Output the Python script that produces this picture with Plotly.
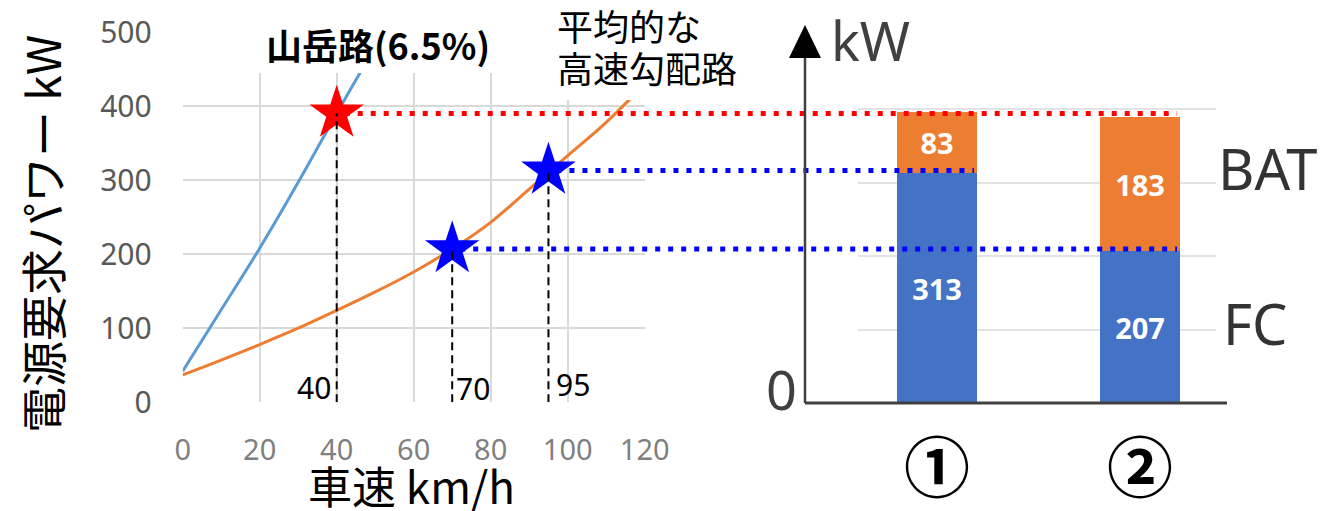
import plotly.graph_objects as go

# ---- data ---------------------------------------------------------------
# required power vs. vehicle speed
mountain_speed = [0, 10, 20, 30, 40, 50]
mountain_kw = [42, 125, 208, 297, 390, 480]          # 山岳路 (6.5%)
highway_speed = [0, 10, 20, 30, 40, 50, 60, 70, 80, 90, 100, 110, 120]
highway_kw = [37, 57, 78, 100, 124, 149, 176, 207, 243, 288, 333, 378, 430]  # 平均的な高速勾配路

# operating points
red_speed, red_kw = [40], [390]
blue_speed, blue_kw = [70, 95], [207, 313]

# power split per case
cases = ["①", "②"]
fc_kw = [313, 207]
bat_kw = [83, 183]

x_ticks = [0, 20, 40, 60, 80, 100, 120]
y_ticks = [0, 100, 200, 300, 400, 500]

# ---- geometry (pixels of the 1329x511 canvas) ---------------------------
W, H = 1329, 511


def px(x):
    return x / W


def py(y):
    return 1 - y / H


L_X0, L_X1, L_Y0, L_Y1 = 182.7, 644.7, 402.3, 32.0
R_X0, R_X1, R_Y0, R_Y1 = 858.0, 1216.0, 403.0, 36.0
X_RANGE = [0, 120]
R_RANGE = [-0.389, 1.374]
BAR_W = 0.394


def xl(v):
    return px(L_X0 + (L_X1 - L_X0) * (v - X_RANGE[0]) / (X_RANGE[1] - X_RANGE[0]))


def xr(i):
    return px(R_X0 + (R_X1 - R_X0) * (i - R_RANGE[0]) / (R_RANGE[1] - R_RANGE[0]))


BLUE_LINE = "#5B9BD5"
ORANGE = "#ED7D31"
FC_BLUE = "#4472C4"
GRID = "#d9d9d9"
JP = "Noto Sans CJK JP"
LAT = "Noto Sans"

fig = go.Figure()

fig.add_trace(go.Scatter(x=mountain_speed, y=mountain_kw, mode="lines",
                         line=dict(color=BLUE_LINE, width=3), line_shape="spline",
                         xaxis="x", yaxis="y", showlegend=False))
fig.add_trace(go.Scatter(x=highway_speed, y=highway_kw, mode="lines",
                         line=dict(color=ORANGE, width=3), line_shape="spline",
                         xaxis="x", yaxis="y", showlegend=False))
fig.add_trace(go.Scatter(x=red_speed, y=red_kw, mode="markers",
                         marker=dict(symbol="star", size=41, color="#FF0000"),
                         xaxis="x", yaxis="y", showlegend=False))
fig.add_trace(go.Scatter(x=blue_speed, y=blue_kw, mode="markers",
                         marker=dict(symbol="star", size=41, color="#0000FF"),
                         xaxis="x", yaxis="y", showlegend=False))

bar_font = dict(family=LAT, size=29, color="white", weight="bold")
fig.add_trace(go.Bar(x=cases, y=fc_kw, width=BAR_W, marker=dict(color=FC_BLUE, line_width=0),
                     text=fc_kw, textposition="inside", insidetextanchor="middle",
                     textangle=0, constraintext="none", insidetextfont=bar_font,
                     xaxis="x2", yaxis="y2", showlegend=False))
fig.add_trace(go.Bar(x=cases, y=bat_kw, width=BAR_W, marker=dict(color=ORANGE, line_width=0),
                     text=bat_kw, textposition="inside", insidetextanchor="middle",
                     textangle=0, constraintext="none", insidetextfont=bar_font,
                     xaxis="x2", yaxis="y2", showlegend=False))

shapes = []
# white label boxes over the top of the speed chart
for x0, x1, y1 in [(243, 507, 73), (532, 760, 100)]:
    shapes.append(dict(type="rect", xref="paper", yref="paper", layer="above",
                       x0=px(x0), x1=px(x1), y0=py(y1), y1=1.01,
                       fillcolor="white", line_width=0))
# gaps in the bar chart gridlines
for x0, x1, y0, y1 in [(1014, 1065, 410, 0), (829, 902, 62, 0)]:
    shapes.append(dict(type="rect", xref="paper", yref="paper", layer="between",
                       x0=px(x0), x1=px(x1), y0=py(y0), y1=py(y1),
                       fillcolor="white", line_width=0))

# vertical drop lines from operating points
for s, k in zip(red_speed + blue_speed, red_kw + blue_kw):
    shapes.append(dict(type="line", xref="x", yref="y", x0=s, x1=s, y0=0, y1=k,
                       layer="above", line=dict(color="black", width=2, dash="8px,5px")))

# horizontal dotted links from operating points to the bars
links = [
    (red_speed[0], red_kw[0], 1, "#FF0000"),
    (blue_speed[1], blue_kw[1], 0, "#0000FF"),
    (blue_speed[0], blue_kw[0], 1, "#0000FF"),
]
for s, k, bar_i, col in links:
    shapes.append(dict(type="line", xref="paper", yref="y", layer="above",
                       x0=xl(s) + px(8), x1=xr(bar_i + BAR_W / 2) - px(3), y0=k, y1=k,
                       line=dict(color=col, width=5, dash="5px,8px")))

# power axis with arrow head and base line of the bar chart
AX = 805
shapes.append(dict(type="line", xref="paper", yref="paper", layer="above",
                   x0=px(AX), x1=px(AX), y0=py(R_Y0), y1=py(56),
                   line=dict(color="#404040", width=2.5)))
shapes.append(dict(type="path", xref="paper", yref="paper", layer="above",
                   path=f"M {px(AX-16)},{py(58)} L {px(AX+16)},{py(58)} L {px(AX)},{py(25)} Z",
                   fillcolor="black", line_width=0))
shapes.append(dict(type="line", xref="paper", yref="paper", layer="above",
                   x0=px(AX), x1=px(1227), y0=py(R_Y0), y1=py(R_Y0),
                   line=dict(color="#404040", width=3)))

annotations = [
    dict(text="山岳路(6.5%)", x=px(264), y=py(44), xanchor="left", yanchor="middle",
         font=dict(family=JP, size=36, color="black", weight="bold")),
    dict(text="平均的な", x=px(555), y=py(25), xanchor="left", yanchor="middle",
         font=dict(family=JP, size=36, color="black")),
    dict(text="高速勾配路", x=px(555), y=py(67), xanchor="left", yanchor="middle",
         font=dict(family=JP, size=36, color="black")),
    dict(text="電源要求パワー kW", x=px(41), y=py(234), textangle=-90,
         xanchor="center", yanchor="middle",
         font=dict(family=JP, size=46, color="black")),
    dict(text="車速 km/h", x=px(411), y=py(485), xanchor="center", yanchor="middle",
         font=dict(family=JP, size=44, color="black")),
    dict(text="kW", x=px(829), y=py(40), xanchor="left", yanchor="middle",
         font=dict(family=LAT, size=54, color="#404040")),
    dict(text="0", x=px(781), y=py(389), xanchor="center", yanchor="middle",
         font=dict(family=LAT, size=54, color="#404040")),
    dict(text="BAT", x=px(1216), y=py(168), xanchor="left", yanchor="middle",
         font=dict(family=LAT, size=56, color="#333333")),
    dict(text="FC", x=px(1221), y=py(323), xanchor="left", yanchor="middle",
         font=dict(family=LAT, size=56, color="#333333")),
]
# speed labels beside the drop lines
for s, anchor, dx, dy in [(40, "right", -4, -8), (70, "left", 2, -9), (95, "left", 6, -5)]:
    annotations.append(dict(text=str(s), xref="x", yref="y", x=s, y=0,
                            xanchor=anchor, yanchor="bottom", xshift=dx, yshift=dy,
                            font=dict(family=LAT, size=30, color="black")))
for a in annotations:
    a.setdefault("xref", "paper")
    a.setdefault("yref", "paper")
    a["showarrow"] = False

fig.update_layout(
    template="none",
    width=W, height=H,
    margin=dict(l=0, r=0, t=0, b=0),
    paper_bgcolor="white", plot_bgcolor="white",
    barmode="stack", bargap=0,
    showlegend=False,
    xaxis=dict(domain=[px(L_X0), px(L_X1)], range=X_RANGE, tickvals=x_ticks,
               showgrid=True, gridcolor=GRID, gridwidth=2, zeroline=False,
               showline=False, ticks="", automargin=False,
               tickfont=dict(family=LAT, size=29, color="#7f7f7f"),
               ticklabelstandoff=28, anchor="y"),
    yaxis=dict(domain=[py(L_Y0), py(L_Y1)], range=[0, 500], tickvals=y_ticks,
               showgrid=True, gridcolor=GRID, gridwidth=2, zeroline=False,
               showline=False, ticks="", automargin=False,
               tickfont=dict(family=LAT, size=30, color="#595959"),
               ticklabelstandoff=30, anchor="x"),
    xaxis2=dict(domain=[px(R_X0), px(R_X1)], range=R_RANGE, type="category",
                showgrid=False, zeroline=False, showline=False, ticks="",
                automargin=False, anchor="y2",
                tickfont=dict(family=JP, size=66, color="black", weight="bold"),
                ticklabelstandoff=22),
    yaxis2=dict(domain=[py(R_Y0), py(R_Y1)], range=[0, 500], tickvals=y_ticks,
                showgrid=True, gridcolor="#e3e3e3", gridwidth=2, zeroline=False,
                showline=False, ticks="", showticklabels=False,
                automargin=False, anchor="x2"),
    shapes=shapes,
    annotations=annotations,
)

fig.write_html("out.html")
